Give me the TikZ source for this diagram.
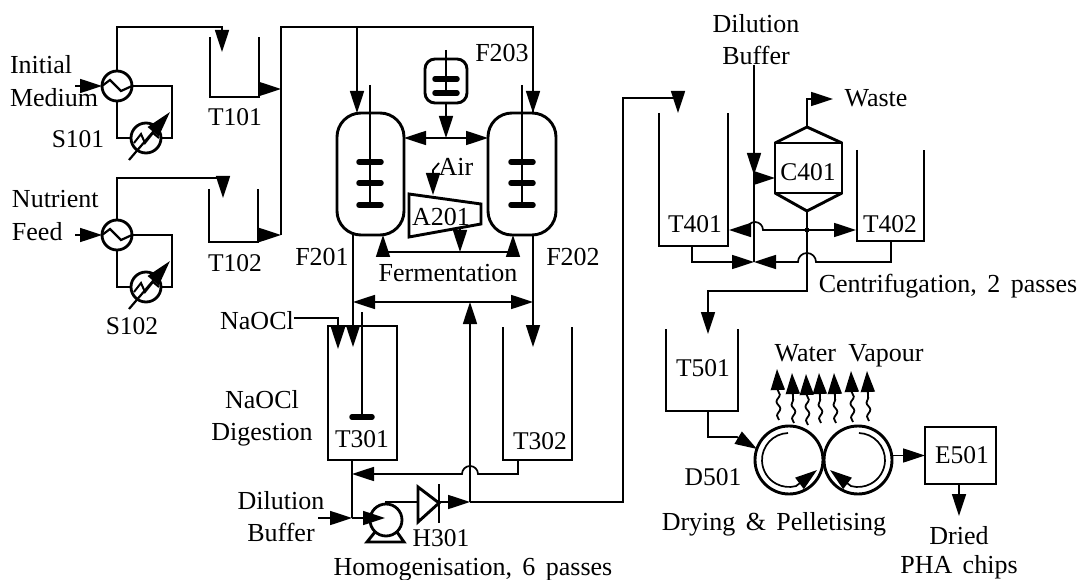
\documentclass[tikz,border=0pt]{standalone}
\usepackage{fontspec}
\setmainfont{Liberation Serif}
\usetikzlibrary{arrows.meta,decorations.pathmorphing}
\tikzset{
    tag/.style={inner sep=0pt,outer sep=0pt,text height=17.5pt,text depth=0pt,font={\fontsize{26}{30}\selectfont\spaceskip=.4em\relax}},
    tanktag/.style={tag,font=\fontsize{25.5}{30}\selectfont},
    pipe/.style={line width=1.7pt},
    wall/.style={line width=2.9pt},
    flow/.style={pipe,-{Triangle[length=22pt,width=14pt]}},
    blade/.style={line width=5.5pt,line cap=round},
    round vessel/.style={draw,wall,inner sep=0pt,outer sep=0pt,minimum width=#1,rounded corners=24pt},
    box vessel/.style={draw,wall,inner sep=0pt,outer sep=0pt},
    exchanger/.style={draw,circle,line width=2.8pt,minimum size=30pt,inner sep=0pt,outer sep=0pt},
    vapour/.style={pipe,line width=1.8pt,-{Triangle[length=21pt,width=14pt]},decorate,
        decoration={snake,amplitude=1.8pt,segment length=14pt,post length=21pt}}
}
\begin{document}
\begin{tikzpicture}[x=1pt,y=-1pt]
    \useasboundingbox (0,0) rectangle (1082,580);

    % Function to draw an open tank
    \newcommand{\drawtank}[5]{
        \coordinate (#1nw) at (#2,#3);
        \coordinate (#1se) at (#4,#5);
        \coordinate (#1ne) at (#4,#3);
        \draw[wall] (#1nw) |- (#1se) -- (#1ne);
    }
    % Function to draw a heat exchanger
    \newcommand{\drawhx}[3]{
        \node[exchanger] (#1) at (#2,#3) {};
        \draw[line width=2.2pt] (#1.west) -- ++(8,-6) -- ++(11,11) -- ++(11,-5);
    }
    % Function to draw a cooler with its diagonal arrow
    \newcommand{\drawcooler}[3]{
        \node[exchanger] (#1) at (#2,#3) {};
        \draw[line width=2pt] ([shift={(-12,5)}]#1.center) -- ++(7,-9) -- ++(4,9) -- ++(8,-10) -- ++(6,5);
        \draw[line width=2.2pt,-{Triangle[length=26pt,width=14pt]}] ([shift={(-17,22)}]#1.center) -- ++(41,-48);
    }
    % Function to draw a shaft with its blades
    \newcommand{\drawshaft}[5]{
        \draw[line width=2.4pt] (#1,#2) -- (#1,#3);
        \foreach \y in {#4} {
            \draw[blade] (#1-#5,\y) -- (#1+#5,\y);
        }
    }

    % Draw the media tanks
    \drawtank{T101}{210}{37}{259}{97}
    \drawtank{T102}{209}{189}{258}{242}
    \node[tanktag] (T101label) at (235,117) {T101};
    \node[tanktag] (T102label) at (235,263) {T102};

    % Draw the heat exchangers
    \drawhx{S101h}{117}{86}
    \drawcooler{S101c}{146}{138}
    \drawhx{S102h}{117}{235}
    \drawcooler{S102c}{146}{287}
    \coordinate (S101r) at (172,138);
    \coordinate (S102r) at (172,287);
    \draw[wall] (S101h.south) |- (S101c.west);
    \draw[wall] (S101h.east) -| (S101r) -- (S101c.east);
    \draw[wall] (S102h.south) |- (S102c.west);
    \draw[wall] (S102h.east) -| (S102r) -- (S102c.east);

    % Labels for the feeds
    \node[tag,anchor=west] (initial) at (10,65) {Initial};
    \node[tag,anchor=west] (medium) at (10,98) {Medium};
    \node[tanktag] (S101label) at (78,139) {S101};
    \node[tag,anchor=west] (nutrient) at (12,199) {Nutrient};
    \node[tag,anchor=west] (feed) at (12,232) {Feed};
    \node[tanktag] (S102label) at (132,326) {S102};

    % Draw the feed lines
    \coordinate (medin) at (75,86);
    \coordinate (feedin) at (75,235);
    \coordinate (T101top) at (222,27);
    \coordinate (T101in) at (222,52);
    \coordinate (T102top) at (223,178);
    \coordinate (T102in) at (223,198);
    \draw[flow] (medin) -- (S101h.west);
    \draw[flow] (feedin) -- (S102h.west);
    \draw[flow] (S101h.north) |- (T101top) -- (T101in);
    \draw[flow] (S102h.north) |- (T102top) -- (T102in);

    % Draw the manifold to the fermenters
    \coordinate (T101out) at (259,89);
    \coordinate (T102out) at (258,235);
    \coordinate (man1) at (281,89);
    \coordinate (man2) at (281,235);
    \coordinate (mantop) at (281,27);
    \coordinate (F201in) at (357,113);
    \coordinate (F202in) at (533,113);
    \draw[flow] (T101out) -- (man1);
    \draw[flow] (T102out) -- (man2);
    \draw[pipe] (man2) -- (mantop) -| (F202in);
    \draw[flow] (F201in |- mantop) -- (F201in);
    \draw[flow] (F202in |- mantop) -- (F202in);

    % Draw the fermenters
    \node[round vessel=67pt,minimum height=122pt] (F201) at (370.5,174) {};
    \node[round vessel=68pt,minimum height=122pt] (F202) at (522,174) {};
    \node[round vessel=42pt,minimum height=44pt,rounded corners=10pt] (F203) at (446,81) {};
    \drawshaft{370}{85}{205}{162,183,205}{11}
    \drawshaft{522}{85}{205}{162,183,205}{11}
    \drawshaft{446}{50}{93}{79,93}{11}
    \node[tag] (F201label) at (322,257) {F201};
    \node[tag] (F202label) at (573,257) {F202};
    \node[tag] (F203label) at (502,53) {F203};
    \node[tag] (fermlabel) at (448,273) {Fermentation};

    % Draw the seed line and the air line
    \coordinate (seedT) at (446,138);
    \draw[flow] (F203.south) -- (seedT);
    \draw[flow] (seedT) -- (F201.east |- seedT);
    \draw[flow] (seedT) -- (F202.west |- seedT);
    \node[tag] (air) at (456,167) {Air};
    \coordinate (airtail) at (439,163);
    \coordinate (airbend) at (433,170);
    \coordinate (airtip) at (433,195);
    \draw[flow] (airtail) -- (airbend) -- (airtip);

    % Draw the compressor
    \draw[wall,line join=miter] (409,194) -- (481,204) -- (481,224) -- (409,237) -- cycle;
    \node[tag] (A201) at (441,217) {A201};
    \coordinate (A201out) at (460,228);
    \coordinate (airT) at (460,252);
    \coordinate (F201air) at (383,252);
    \coordinate (F202air) at (513,252);
    \draw[flow] (A201out) -- (airT);
    \draw[pipe] (F201air) -- (F202air);
    \draw[flow] (F201air) -- (F201air |- F201.south);
    \draw[flow] (F202air) -- (F202air |- F202.south);

    % Draw the harvest lines
    \coordinate (F201out) at (353,235);
    \coordinate (F202out) at (533,235);
    \coordinate (T301in) at (353,347);
    \coordinate (T302in) at (533,347);
    \coordinate (recycleT) at (470,302);
    \draw[flow] (F201out) -- (T301in);
    \draw[flow] (F202out) -- (T302in);
    \draw[flow] (recycleT) -- (T301in |- recycleT);
    \draw[flow] (recycleT) -- (T302in |- recycleT);

    % Draw the digestion tanks
    \node[box vessel,minimum width=69pt,minimum height=134pt] (T301) at (362.5,393) {};
    \drawshaft{362}{312}{417}{417}{10}
    \drawtank{T302}{503}{327}{572}{460}
    \node[tanktag] (T301label) at (362,439) {T301};
    \node[tanktag] (T302label) at (540,441) {T302};
    \node[tag] (naocl) at (257,321) {NaOCl};
    \node[tag] (digest1) at (262,400) {NaOCl};
    \node[tag] (digest2) at (262,432) {Digestion};
    \coordinate (naoclbend) at (338,318);
    \coordinate (naocltip) at (338,349);
    \draw[flow] (naocl.east |- naoclbend) -- (naoclbend) -- (naocltip);

    % Draw the homogeniser loop
    \node[exchanger,minimum size=32pt] (H301) at (386,520) {};
    \node[tanktag] (H301label) at (441,538) {H301};
    \node[tag] (homog) at (473,567) {Homogenisation, 6 passes};
    \node[tag] (dil1) at (281,501) {Dilution};
    \node[tag] (dil2) at (281,533) {Buffer};
    \coordinate (T302out) at (518,460);
    \coordinate (T302low) at (518,474);
    \coordinate (retT) at (352,474);
    \coordinate (T301out) at (352,460);
    \coordinate (pumpT) at (352,518);
    \coordinate (dilin) at (318,518);
    \coordinate (pumpin) at (385,518);
    \coordinate (pumptop) at (385,502);
    \coordinate (valvein) at (418,502);
    \coordinate (valveout) at (439,502);
    \coordinate (homT) at (470,502);
    \coordinate (riser) at (623,502);
    \coordinate (T401top) at (678,98);
    \coordinate (T401in) at (678,113);
    \draw[flow] (T302out) -- (T302low) -- (478,474) arc[start angle=0,end angle=180,radius=8pt] -- (retT);
    \draw[pipe] (T301out) -- (pumpT);
    \draw[flow] (dilin) -- (pumpT);
    \draw[flow] (pumpT) -- (pumpin);
    \draw[wall] (pumptop) -- (valvein);
    \draw[wall,line join=miter] (418,487) -- (418,522) -- (439,503) -- cycle;
    \draw[wall] (439,484) -- (439,523);
    \draw[wall] (375,532) -- (367,542) -- (404,542) -- (397,532);
    \draw[flow] (valveout) -- (homT);
    \draw[flow] (homT) -- (recycleT);
    \draw[pipe] (homT) -- (riser) |- (T401top);
    \draw[flow] (T401top) -- (T401in);

    % Draw the centrifugation section
    \drawtank{T401}{659}{113}{728}{246}
    \drawtank{T402}{857}{150}{924}{241}
    \node[tanktag] (T401label) at (695,224) {T401};
    \node[tanktag] (T402label) at (890,224) {T402};
    \node[box vessel,minimum width=67pt,minimum height=50pt] (C401) at (808.5,168) {};
    \node[tanktag] (C401label) at (808,172) {C401};
    \coordinate (C401top) at (807,127);
    \coordinate (C401low) at (807,211);
    \draw[wall] (C401.north west) -- (C401top) -- (C401.north east);
    \draw[wall] (C401.south west) -- (C401low) -- (C401.south east);
    \node[tag] (waste) at (876,98) {Waste};
    \coordinate (wastetip) at (833,99);
    \draw[flow] (C401top) |- (wastetip);
    \node[tag] (buf1) at (756,24) {Dilution};
    \node[tag] (buf2) at (756,56) {Buffer};
    \coordinate (bufT) at (754,178);
    \coordinate (bufhead) at (754,175);
    \coordinate (bufend) at (754,262);
    \draw[flow] (buf2.south -| bufT) -- (bufhead);
    \draw[pipe] (bufhead) -- (bufend);
    \draw[flow] (bufT) -- (C401.west |- bufT);
    \coordinate (centT) at (807,230);
    \coordinate (T501top) at (807,291);
    \coordinate (T501in) at (708,334);
    \fill (centT) circle (2.5);
    \draw[flow] (C401low) -- (centT) -- (856,230);
    \draw[flow] (centT) -- (763,230) arc[start angle=0,end angle=180,radius=8pt] -- (729,230);
    \draw[flow] (C401low) -- (T501top) -| (T501in);
    \coordinate (T401out) at (692,246);
    \coordinate (T402out) at (891,241);
    \draw[flow] (T401out) |- (bufend);
    \draw[flow] (T402out) |- (816,262) arc[start angle=0,end angle=180,radius=9pt] -- (bufend);
    \node[tag] (centlabel) at (948,284) {Centrifugation, 2 passes};

    % Draw the dryer
    \drawtank{T501}{666}{329}{738}{411}
    \node[tanktag] (T501label) at (703,368) {T501};
    \node[draw,circle,wall,minimum size=68pt,inner sep=0pt,outer sep=0pt] (D501a) at (789,460) {};
    \node[draw,circle,wall,minimum size=68pt,inner sep=0pt,outer sep=0pt] (D501b) at (858,460) {};
    \draw[pipe,-{Triangle[length=22pt,width=14pt]}] ([shift={(92:27pt)}]D501a.center) arc[start angle=92,end angle=285,radius=27pt] -- ++(21,-16);
    \draw[pipe,-{Triangle[length=22pt,width=14pt]}] ([shift={(88:27pt)}]D501b.center) arc[start angle=88,end angle=-105,radius=27pt] -- ++(-21,-16);
    \node[tanktag] (D501label) at (713,477) {D501};
    \node[tag] (drying) at (774,522) {Drying \& Pelletising};
    \coordinate (T501out) at (708,411);
    \coordinate (dryin) at (737,437);
    \coordinate (drytip) at (757,449);
    \draw[flow] (T501out) |- (dryin) -- (drytip);

    % Draw the extruder
    \node[box vessel,minimum width=71pt,minimum height=57pt] (E501) at (960.5,455.5) {};
    \node[tanktag] (E501label) at (962,455) {E501};
    \node[tag] (dried) at (959,536) {Dried};
    \node[tag] (chips) at (959,565) {PHA chips};
    \coordinate (E501tip) at (959,516);
    \draw[flow] (D501b.east |- E501) -- (E501.west);
    \draw[flow] (E501.south -| E501tip) -- (E501tip);

    % Draw the water vapour arrows
    \node[tag] (vapourlabel) at (849,353) {Water\hspace{2pt} Vapour};
    \foreach \xa/\ya/\xb/\yb in {779/420/777/369, 794/423/792/373, 808/425/806/374, 821/423/819/373, 836/423/834/373, 853/422/851/371, 869/421/867/371} {
        \draw[vapour] (\xa,\ya) -- (\xb,\yb);
    }
\end{tikzpicture}
\end{document}
